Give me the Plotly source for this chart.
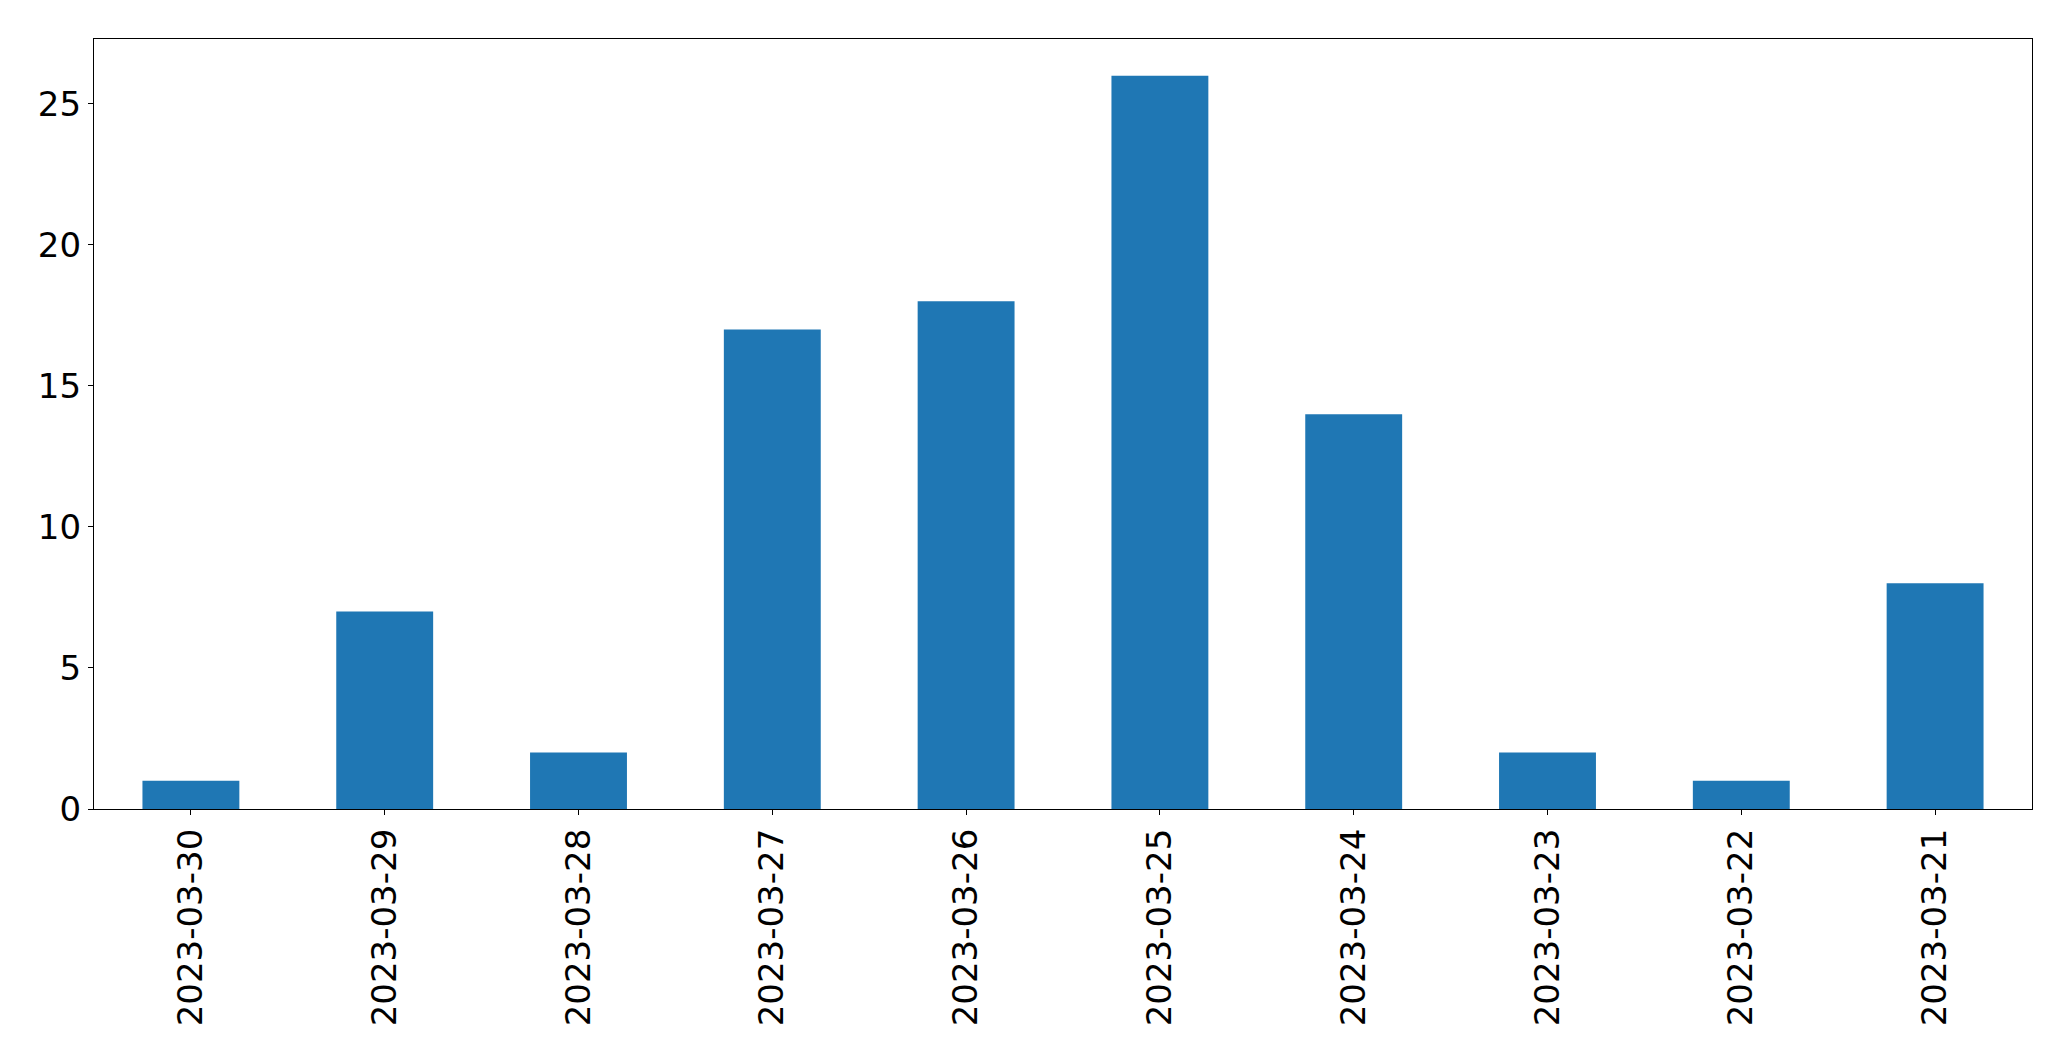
import plotly.graph_objects as go

dates = ["2023-03-30", "2023-03-29", "2023-03-28", "2023-03-27", "2023-03-26",
         "2023-03-25", "2023-03-24", "2023-03-23", "2023-03-22", "2023-03-21"]
counts = [1, 7, 2, 17, 18, 26, 14, 2, 1, 8]
y_ticks = [0, 5, 10, 15, 20, 25]

xpos = list(range(len(dates)))

fig = go.Figure(go.Bar(x=xpos, y=counts, width=0.5, marker=dict(color="#1f77b4", line=dict(width=0))))

font = dict(family="DejaVu Sans", size=34, color="black")
fig.update_layout(
    width=2071, height=1061,
    margin=dict(l=94, r=39, t=39, b=252),
    paper_bgcolor="white", plot_bgcolor="white",
    showlegend=False,
    font=font,
)
fig.update_xaxes(
    range=[-0.5, len(dates) - 0.5],
    tickmode="array", tickvals=xpos, ticktext=dates, tickangle=-90,
    showline=True, linecolor="black", linewidth=1.3, mirror=True,
    ticks="outside", ticklen=5, tickwidth=1.3, tickcolor="black",
    showgrid=False, zeroline=False, tickfont=font,
)
fig.update_yaxes(
    range=[0, max(counts) * 1.05],
    tickmode="array", tickvals=y_ticks,
    showline=True, linecolor="black", linewidth=1.3, mirror=True,
    ticks="outside", ticklen=5, tickwidth=1.3, tickcolor="black",
    showgrid=False, zeroline=False, tickfont=font,
)
fig.write_html("out.html")
